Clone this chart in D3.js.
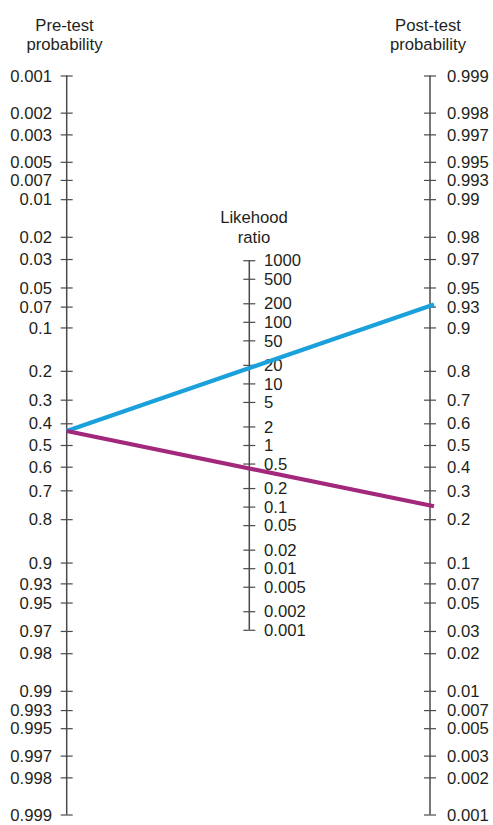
<!DOCTYPE html>
<html>
<head>
<meta charset="utf-8">
<script src="https://cdn.jsdelivr.net/npm/d3@7"></script>
<style>
  html, body { margin: 0; padding: 0; background: #fff; }
  svg { display: block; }
  text { font-family: "Liberation Sans", Arial, Helvetica, sans-serif; fill: #231f20; }
</style>
</head>
<body>
<script>
// Fagan nomogram: pre-test probability, likelihood ratio, post-test probability
const preTestTicks = [0.001, 0.002, 0.003, 0.005, 0.007, 0.01, 0.02, 0.03, 0.05, 0.07, 0.1,
  0.2, 0.3, 0.4, 0.5, 0.6, 0.7, 0.8, 0.9, 0.93, 0.95, 0.97, 0.98, 0.99, 0.993, 0.995, 0.997, 0.998, 0.999];
const postTestTicks = [0.999, 0.998, 0.997, 0.995, 0.993, 0.99, 0.98, 0.97, 0.95, 0.93, 0.9,
  0.8, 0.7, 0.6, 0.5, 0.4, 0.3, 0.2, 0.1, 0.07, 0.05, 0.03, 0.02, 0.01, 0.007, 0.005, 0.003, 0.002, 0.001];
const ratioTicks = [1000, 500, 200, 100, 50, 20, 10, 5, 2, 1, 0.5, 0.2, 0.1, 0.05, 0.02, 0.01, 0.005, 0.002, 0.001];

// Test results drawn across the nomogram
const preTestProbability = 0.435;
const likelihoodRatios = [17.5, 0.42];
const lineColors = ["#1aa0db", "#a2287c"];

const W = 493, H = 825;
const FONT = 16.7;
const xPre = 66.7, xMid = 249.3, xPost = 430;
const yTop = 75.5, yBottom = 814.5;
const tickHalf = 6;

const logit = p => Math.log(p / (1 - p));
const pMin = 0.001, pMax = 0.999;

// Linear scale in logit space; the middle scale runs at half the slope in ln(LR)
const yLogit = d3.scaleLinear().domain([logit(pMin), logit(pMax)]).range([yTop, yBottom]);
const yPre = p => yLogit(logit(p));
const yPost = p => yLogit(-logit(p));
const yRatio = d3.scaleLog()
  .domain([0.001, 1000])
  .range([(yLogit(0) + yLogit(Math.log(1000))) / 2, (yLogit(0) + yLogit(-Math.log(1000))) / 2]);

const svg = d3.select("body").append("svg").attr("width", W).attr("height", H);

function styleAxis(g) {
  g.select(".domain").remove();
  g.selectAll(".tick line").attr("stroke", "#4a4a4a").attr("stroke-width", 1.2);
  g.selectAll(".tick text")
    .attr("font-size", FONT)
    .attr("font-family", "'Liberation Sans', Arial, Helvetica, sans-serif")
    .attr("fill", "#231f20")
    .attr("dy", "0.34em");
  g.attr("font-size", null).attr("font-family", null);
}

function spine(x, y0, y1) {
  svg.append("line")
    .attr("x1", x).attr("x2", x).attr("y1", y0).attr("y2", y1)
    .attr("stroke", "#4a4a4a").attr("stroke-width", 1.5);
}

// Pre-test axis (left)
spine(xPre, yPre(pMin), yPre(pMax));
svg.append("g")
  .attr("transform", `translate(${xPre + tickHalf},0)`)
  .call(d3.axisLeft(yLogit)
    .tickValues(preTestTicks.map(logit))
    .tickFormat((d, i) => String(preTestTicks[i]))
    .tickSize(tickHalf * 2).tickPadding(8.7))
  .call(styleAxis);

// Likelihood ratio axis (middle)
spine(xMid, yRatio(1000), yRatio(0.001));
svg.append("g")
  .attr("transform", `translate(${xMid - tickHalf},0)`)
  .call(d3.axisRight(yRatio)
    .tickValues(ratioTicks)
    .tickFormat(d => String(d))
    .tickSize(tickHalf * 2).tickPadding(8.7))
  .call(styleAxis);

// Post-test axis (right)
spine(xPost, yPost(pMax), yPost(pMin));
svg.append("g")
  .attr("transform", `translate(${xPost - tickHalf},0)`)
  .call(d3.axisRight(yLogit)
    .tickValues(postTestTicks.map(p => -logit(p)))
    .tickFormat((d, i) => String(postTestTicks[i]))
    .tickSize(tickHalf * 2).tickPadding(11))
  .call(styleAxis);

// Axis titles
const titles = [
  { x: 64.5, y: 30.5, lines: ["Pre-test", "probability"] },
  { x: 428, y: 30.5, lines: ["Post-test", "probability"] },
  { x: 254, y: 223.3, lines: ["Likehood", "ratio"] }
];
titles.forEach(t => {
  const txt = svg.append("text")
    .attr("x", t.x).attr("y", t.y)
    .attr("text-anchor", "middle")
    .attr("font-size", FONT);
  t.lines.forEach((s, i) => {
    txt.append("tspan").attr("x", t.x).attr("dy", i === 0 ? 0 : 19.5).text(s);
  });
});

// Result lines: post-test odds = pre-test odds x likelihood ratio
const preOdds = preTestProbability / (1 - preTestProbability);
likelihoodRatios.forEach((lr, i) => {
  const postOdds = preOdds * lr;
  const post = postOdds / (1 + postOdds);
  svg.append("line")
    .attr("x1", xPre).attr("y1", yPre(preTestProbability))
    .attr("x2", xPost + 4).attr("y2", yPost(post) + (yPost(post) - yPre(preTestProbability)) * 4 / (xPost - xPre))
    .attr("stroke", lineColors[i])
    .attr("stroke-width", 4.2)
    .attr("stroke-linecap", "butt");
});
</script>
</body>
</html>
